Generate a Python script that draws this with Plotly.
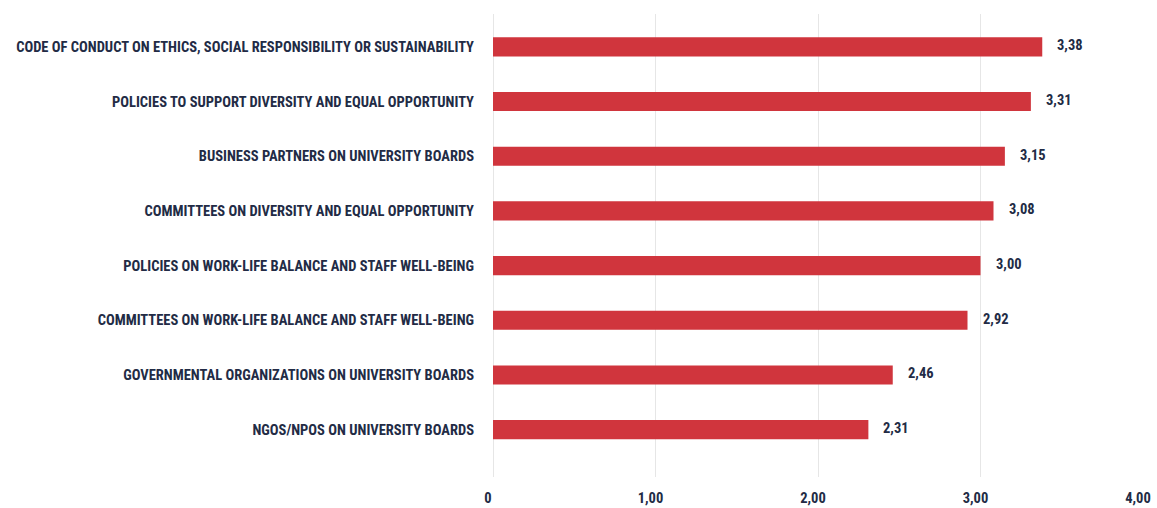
import plotly.graph_objects as go

categories = [
    "CODE OF CONDUCT ON ETHICS, SOCIAL RESPONSIBILITY OR SUSTAINABILITY",
    "POLICIES TO SUPPORT DIVERSITY AND EQUAL OPPORTUNITY",
    "BUSINESS PARTNERS ON UNIVERSITY BOARDS",
    "COMMITTEES ON DIVERSITY AND EQUAL OPPORTUNITY",
    "POLICIES ON WORK-LIFE BALANCE AND STAFF WELL-BEING",
    "COMMITTEES ON WORK-LIFE BALANCE AND STAFF WELL-BEING",
    "GOVERNMENTAL ORGANIZATIONS ON UNIVERSITY BOARDS",
    "NGOS/NPOS ON UNIVERSITY BOARDS",
]
values = [3.38, 3.31, 3.15, 3.08, 3.00, 2.92, 2.46, 2.31]
tick_values = [0, 1, 2, 3, 4]
tick_labels = ["0", "1,00", "2,00", "3,00", "4,00"]

BAR = "#d0353d"
INK = "#222b45"
FONT = "Roboto Condensed, Liberation Sans Narrow, DejaVu Sans Condensed, sans-serif"

fig = go.Figure(
    go.Bar(
        x=values,
        y=categories,
        orientation="h",
        marker=dict(color=BAR, line=dict(width=0)),
        width=0.35,
        hoverinfo="skip",
    )
)

# value labels to the right of each bar, comma decimal separator
for cat, v in zip(categories, values):
    fig.add_annotation(
        x=v, y=cat, text=f"{v:.2f}".replace(".", ","),
        showarrow=False, xanchor="left", yanchor="middle", xshift=13, yshift=1,
        font=dict(family=FONT, size=14.5, color=INK, weight="bold"),
    )

fig.update_layout(
    width=1157, height=508,
    margin=dict(l=493, r=14, t=14, b=31),
    paper_bgcolor="white", plot_bgcolor="white",
    showlegend=False,
    font=dict(family=FONT, color=INK),
    xaxis=dict(
        range=[0, 4], tickvals=tick_values, ticktext=tick_labels,
        showgrid=True, gridcolor="#e6e6e6", gridwidth=1,
        zeroline=True, zerolinecolor="#e6e6e6", zerolinewidth=1,
        showline=False, ticks="", ticklabelstandoff=10, ticklabelshift=-5,
        tickfont=dict(family=FONT, size=14.5, color=INK, weight="bold"),
        automargin=False, fixedrange=True,
    ),
    yaxis=dict(
        categoryorder="array", categoryarray=categories,
        range=[7.865, -0.6],
        showgrid=False, showline=False, ticks="", ticklabelstandoff=18,
        tickfont=dict(family=FONT, size=14.5, color=INK, weight="bold"),
        automargin=False, fixedrange=True,
    ),
)

fig.write_html("out.html")
